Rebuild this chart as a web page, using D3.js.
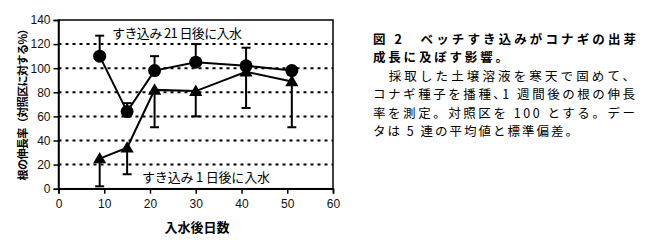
<!DOCTYPE html>
<html>
<head>
<meta charset="utf-8">
<script src="https://cdn.jsdelivr.net/npm/d3@7"></script>
<style>
  body { margin: 0; background: #fff; }
  svg text { font-family: "Liberation Sans", Arial, sans-serif; }
  .jp { font-family: "Noto Sans CJK JP", sans-serif; }
</style>
</head>
<body>
<figure id="chart" style="margin:0"></figure>
<script>
// data
const days = [9, 15, 21, 30, 41, 51];
const late = [110, 64, 98, 105, 102, 98];      // すき込み21日後に入水 (circles)
const lateSd = [17, 7, 12, 15, 15, 3];
const early = [25, 34, 82, 81, 97, 89];        // すき込み1日後に入水 (triangles)
const earlySd = [23, 22, 31, 21, 30, 38];
const xTicks = [0, 10, 20, 30, 40, 50, 60];
const yTicks = [0, 20, 40, 60, 80, 100, 120, 140];
const gridTicks = [20, 40, 60, 80, 100, 120];
const caption = [
  "図 2　ベッチすき込みがコナギの出芽",
  "成長に及ぼす影響。",
  "　採取した土壌溶液を寒天で固めて、",
  "コナギ種子を播種､1 週間後の根の伸長",
  "率を測定。対照区を 100 とする。デー",
  "タは 5 連の平均値と標準偏差。"
];

const width = 650, height = 244;
const plot = { left: 58.5, right: 333, top: 20, bottom: 188.7 };

const svg = d3.select("#chart").append("svg")
  .attr("width", width)
  .attr("height", height);

const x = d3.scaleLinear().domain([0, 60]).range([plot.left, plot.right]);
const y = d3.scaleLinear().domain([0, 140]).range([plot.bottom, plot.top]);

// dotted gridlines
svg.append("g").selectAll("line")
  .data(gridTicks)
  .enter().append("line")
  .attr("x1", plot.left).attr("x2", plot.right)
  .attr("y1", d => y(d)).attr("y2", d => y(d))
  .attr("stroke", "#000")
  .attr("stroke-width", 2)
  .attr("stroke-dasharray", "3,4");

// frame
svg.append("rect")
  .attr("x", plot.left).attr("y", plot.top)
  .attr("width", plot.right - plot.left)
  .attr("height", plot.bottom - plot.top)
  .attr("fill", "none")
  .attr("stroke", "#000")
  .attr("stroke-width", 1.5);

// axes
const xAxis = svg.append("g")
  .attr("transform", "translate(0," + plot.bottom + ")")
  .call(d3.axisBottom(x).tickValues(xTicks).tickSize(5).tickPadding(6));
const yAxis = svg.append("g")
  .attr("transform", "translate(" + plot.left + ",0)")
  .call(d3.axisLeft(y).tickValues(yTicks).tickSize(5).tickPadding(3));
[xAxis, yAxis].forEach(a => {
  a.select(".domain").attr("stroke-width", 1.5);
  a.selectAll(".tick line").attr("stroke-width", 1.5);
  a.selectAll("text")
    .style("font-family", "'Liberation Sans', Arial, sans-serif")
    .style("font-size", "12px")
    .attr("fill", "#111");
});

// error bars: circles up, triangles down
function errorBars(vals, sds, dir) {
  const g = svg.append("g").attr("stroke", "#000").attr("stroke-width", 2);
  g.selectAll("line.v")
    .data(days)
    .enter().append("line")
    .attr("x1", d => x(d)).attr("x2", d => x(d))
    .attr("y1", (d, i) => y(vals[i]))
    .attr("y2", (d, i) => y(vals[i] + dir * sds[i]));
  g.selectAll("line.c")
    .data(days)
    .enter().append("line")
    .attr("x1", d => x(d) - 4.5).attr("x2", d => x(d) + 4.5)
    .attr("y1", (d, i) => y(vals[i] + dir * sds[i]))
    .attr("y2", (d, i) => y(vals[i] + dir * sds[i]));
}
errorBars(late, lateSd, 1);
errorBars(early, earlySd, -1);

const line = d3.line().x(d => x(d[0])).y(d => y(d[1]));

svg.append("path")
  .datum(days.map((d, i) => [d, early[i]]))
  .attr("d", line)
  .attr("fill", "none").attr("stroke", "#000").attr("stroke-width", 2);
svg.append("path")
  .datum(days.map((d, i) => [d, late[i]]))
  .attr("d", line)
  .attr("fill", "none").attr("stroke", "#000").attr("stroke-width", 2);

svg.append("g").selectAll("path")
  .data(days)
  .enter().append("path")
  .attr("d", d3.symbol().type(d3.symbolTriangle).size(75))
  .attr("transform", (d, i) => "translate(" + x(d) + "," + (y(early[i]) + 1) + ")")
  .attr("fill", "#000");

svg.append("g").selectAll("circle")
  .data(days)
  .enter().append("circle")
  .attr("cx", d => x(d))
  .attr("cy", (d, i) => y(late[i]))
  .attr("r", 6.5)
  .attr("fill", "#000");

// series labels
svg.append("text").attr("class", "jp")
  .attr("x", 177).attr("y", 37.5)
  .attr("text-anchor", "middle")
  .attr("textLength", 130)
  .style("font-size", "13px")
  .text("すき込み 21 日後に入水");
svg.append("text").attr("class", "jp")
  .attr("x", 206).attr("y", 181.5)
  .attr("text-anchor", "middle")
  .attr("textLength", 128)
  .style("font-size", "13px")
  .text("すき込み 1 日後に入水");

// axis titles
svg.append("text").attr("class", "jp")
  .attr("x", 197).attr("y", 232)
  .attr("text-anchor", "middle")
  .style("font-size", "13px")
  .style("font-weight", "bold")
  .text("入水後日数");
svg.append("text").attr("class", "jp")
  .attr("transform", "translate(27,102) rotate(-90)")
  .attr("text-anchor", "middle")
  .attr("textLength", 157)
  .style("font-size", "11px")
  .style("font-weight", "bold")
  .text("根の伸長率（対照区に対する%）");

// caption block
const capY = [43.5, 62, 80.5, 99, 117.5, 136];
const capW = [263, 135, 262, 262, 262, 205];
svg.append("g").selectAll("text")
  .data(caption)
  .enter().append("text")
  .attr("class", "jp")
  .attr("x", 373)
  .attr("y", (d, i) => capY[i])
  .attr("textLength", (d, i) => capW[i])
  .attr("lengthAdjust", "spacing")
  .style("font-size", "12.5px")
  .style("font-weight", (d, i) => i < 2 ? "bold" : "normal")
  .text(d => d);
</script>
</body>
</html>
